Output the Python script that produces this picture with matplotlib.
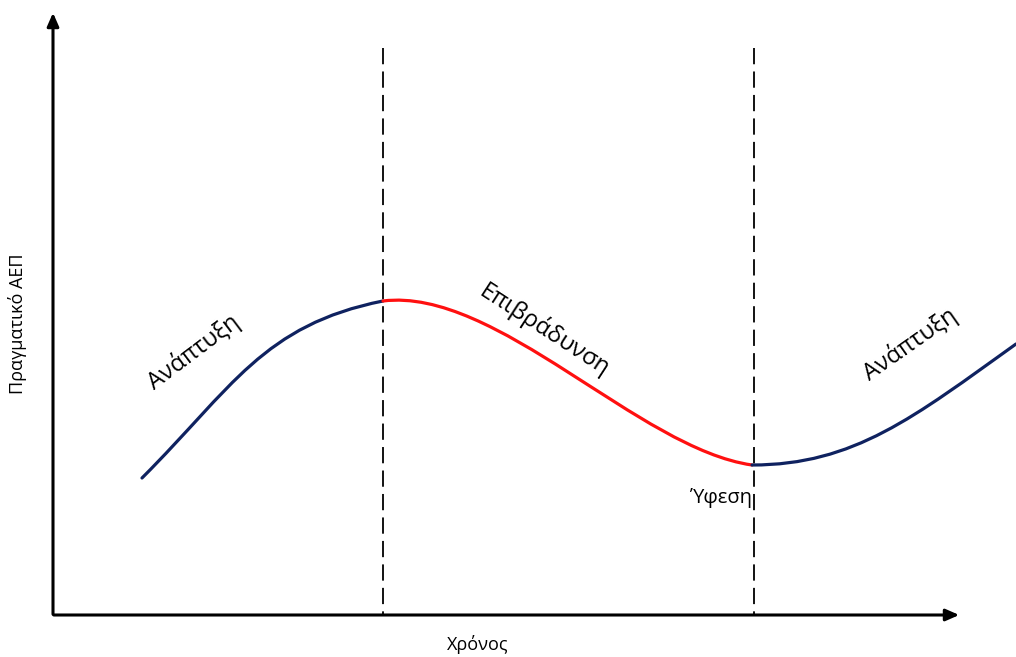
import matplotlib.pyplot as plt
from matplotlib.path import Path
from matplotlib.patches import PathPatch

plt.rcParams['font.family'] = ['Open Sans', 'DejaVu Sans']

# Cubic Bezier points of each phase
# (x = time, y = screen position, down is lower GDP)
growth1_x = [142, 232, 263, 383]
growth1_y = [478, 388, 325, 301]
slow_x = [383, 496, 639, 752]
slow_y = [301, 287, 449, 465]
growth2_x = [752, 854, 914, 1016]
growth2_y = [465, 465, 417, 344]

phase_lines = [383, 754]

blue = '#0f2260'
red = '#ff1010'

fig = plt.figure(figsize=(10.16, 6.57), dpi=100)
ax = fig.add_axes([0, 0, 1, 1])
ax.set_xlim(0, 1016)
ax.set_ylim(657, 0)
ax.axis('off')

# axes with arrows
ax.annotate('', xy=(53, 10), xytext=(53, 617),
            arrowprops=dict(arrowstyle='-|>,head_width=0.35,head_length=0.8', lw=2.2, color='black'))
ax.annotate('', xy=(962, 615), xytext=(51, 615),
            arrowprops=dict(arrowstyle='-|>,head_width=0.35,head_length=0.8', lw=2.2, color='black'))

for xv in phase_lines:
    ax.plot([xv, xv], [48, 615], color='black', lw=1.3, dashes=(9, 4))

codes = [Path.MOVETO, Path.CURVE4, Path.CURVE4, Path.CURVE4]
for xs, ys, col in [(growth1_x, growth1_y, blue), (slow_x, slow_y, red), (growth2_x, growth2_y, blue)]:
    path = Path(list(zip(xs, ys)), codes)
    ax.add_patch(PathPatch(path, facecolor='none', edgecolor=col, lw=2.3, capstyle='round'))

ax.text(194, 352, 'Ανάπτυξη', rotation=37, fontsize=17, ha='center', va='center')
ax.text(545, 330, 'Επιβράδυνση', rotation=-33, fontsize=17, ha='center', va='center')
ax.text(721, 498, 'Ύφεση', fontsize=14.5, ha='center', va='center')
ax.text(910, 344, 'Ανάπτυξη', rotation=35, fontsize=17, ha='center', va='center')
ax.text(478, 645, 'Χρόνος', fontsize=13, ha='center', va='center')
ax.text(18, 324, 'Πραγματικό ΑΕΠ', rotation=90, fontsize=13, ha='center', va='center')

fig.savefig('out.png', dpi=100)
